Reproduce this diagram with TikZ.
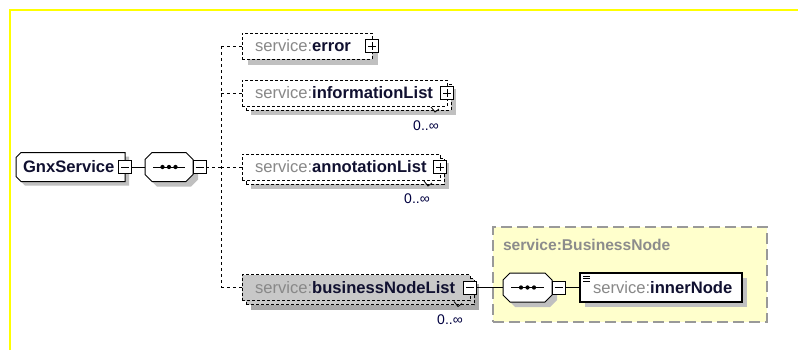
\documentclass[tikz,border=0pt]{standalone}
\usepackage{fontspec}
\setmainfont{Liberation Sans}
\usetikzlibrary{calc}

\pgfdeclarelayer{typebg}
\pgfdeclarelayer{shade}
\pgfsetlayers{typebg,shade,main}

\newlength\px
\setlength\px{0.75pt}

\definecolor{frameyellow}{RGB}{255,255,0}
\definecolor{prefixgray}{RGB}{136,136,136}
\definecolor{namenavy}{RGB}{16,16,48}
\definecolor{shadowgray}{RGB}{192,192,192}
\definecolor{selfill}{RGB}{200,200,200}
\definecolor{selshadow}{RGB}{170,170,170}
\definecolor{typefill}{RGB}{255,255,204}
\definecolor{typeborder}{RGB}{153,153,153}
\definecolor{typetitle}{RGB}{140,140,140}
\definecolor{occnavy}{RGB}{0,0,64}

\tikzset{
  blk/.style={rectangle, inner sep=0pt, outer sep=0pt},
  optline/.style={line width=1\px, dash pattern=on 2.25pt off 1.5pt},
  connline/.style={line width=1\px, dash pattern=on 2.25pt off 2.25pt},
  solidline/.style={line width=1\px},
  optbox/.style={blk, draw=black, fill=white, optline},
  selbox/.style={blk, draw=black, fill=selfill, optline},
  pmbox/.style={blk, draw=black, fill=white, line width=1\px,
    minimum width=13\px, minimum height=13\px},
  txt/.style={inner sep=0pt, outer sep=0pt, font=\fontsize{12.45}{14}\selectfont},
  occ/.style={inner sep=0pt, outer sep=0pt, text=occnavy, font=\fontsize{10.5}{12}\selectfont},
}

\newcommand\pfx[1]{\textcolor{prefixgray}{#1}}
\newcommand\elname[1]{\textcolor{namenavy}{\bfseries #1}}

% signs inside the expand/collapse boxes
\newcommand\minussign[1]{\draw[line width=1\px] ($(#1.center)+(-4,0)$) -- ($(#1.center)+(4,0)$);}
\newcommand\plussign[1]{\minussign{#1}\draw[line width=1\px] ($(#1.center)+(0,-4)$) -- ($(#1.center)+(0,4)$);}

% rectangular drop shadow of a node, offset in px
\newcommand\boxshadow[3]{\fill[#3] ($(#1.north west)+(#2,#2)$) rectangle ($(#1.south east)+(#2,#2)$);}

% small tick under a repeated element, next to its occurrence range
\newcommand\occtick[1]{\draw[line width=0.8\px] ($(#1.south east)+(-16,1)$) -- ($(#1.south east)+(-12,6)$) -- ($(#1.south east)+(-8,3)$);}

% root element outline: left corners cut off
\newcommand\rootshape[3]{\path[#3] ($(#1.north west)+(5+#2,#2)$) -- ($(#1.north east)+(#2,#2)$)
  -- ($(#1.south east)+(#2,#2)$) -- ($(#1.south west)+(5+#2,#2)$)
  -- ($(#1.south west)+(#2,-5+#2)$) -- ($(#1.north west)+(#2,5+#2)$) -- cycle;}

% sequence compositor outline (octagon)
\newcommand\octapath[3]{\path[#3] ($(#1.north west)+(7+#2,#2)$) -- ($(#1.north east)+(-7+#2,#2)$)
  -- ($(#1.north east)+(#2,7+#2)$) -- ($(#1.south east)+(#2,-7+#2)$)
  -- ($(#1.south east)+(-7+#2,#2)$) -- ($(#1.south west)+(7+#2,#2)$)
  -- ($(#1.south west)+(#2,-7+#2)$) -- ($(#1.north west)+(#2,7+#2)$) -- cycle;}

% sequence symbol: line with three dots
\newcommand\seqsymbol[1]{%
  \draw[line width=1\px] ($(#1.west)+(8,0)$) -- ($(#1.east)+(-8,0)$);
  \foreach \d in {-6.5,0,6.5}{\fill ($(#1.center)+(\d,0)$) circle (1.6pt);}}

\begin{document}
\begin{tikzpicture}[x=0.75pt, y=-0.75pt]
\useasboundingbox (0,0) rectangle (798,350);
\begin{pgfonlayer}{typebg}
  \fill[white] (0,0) rectangle (798,350);
\end{pgfonlayer}

% frame
\draw[frameyellow, line width=2\px] (9.5,350) -- (9.5,9.5) -- (798,9.5);

% ---- root element GnxService
\node[blk, minimum width=109\px, minimum height=29\px] (gnx) at (70.5,167) {};
\begin{pgfonlayer}{shade}\rootshape{gnx}{4}{fill=shadowgray}\end{pgfonlayer}
\rootshape{gnx}{0}{draw=black, fill=white, line width=1\px}
\node[txt, anchor=base west] (gnxt) at ($(gnx.west)+(7,5.5)$) {\elname{GnxService}};
\node[pmbox] (gnxm) at (gnx.east) {}; \minussign{gnxm}

% ---- sequence of GnxService
\node[blk, minimum width=48\px, minimum height=29\px] (seq1) at (169,167) {};
\begin{pgfonlayer}{shade}\octapath{seq1}{5}{fill=shadowgray}\end{pgfonlayer}
\octapath{seq1}{0}{draw=black, fill=white, line width=1\px}
\seqsymbol{seq1}
\node[pmbox, anchor=west] (seq1m) at (seq1.east) {}; \minussign{seq1m}
\draw[solidline] (gnxm.east) -- (seq1.west);

% ---- child elements
\node[optbox, minimum width=130\px, minimum height=26\px] (error) at (307,46) {};
\begin{pgfonlayer}{shade}\boxshadow{error}{6}{shadowgray}\end{pgfonlayer}
\node[txt, anchor=base west] (errort) at ($(error.west)+(13,5.5)$) {\pfx{service:}\elname{error}};
\node[pmbox] (errorp) at (error.east) {}; \plussign{errorp}

\node[optbox, minimum width=205\px, minimum height=26\px] (infob) at (348.5,97) {};
\begin{pgfonlayer}{shade}\boxshadow{infob}{5}{shadowgray}\end{pgfonlayer}
\node[optbox, minimum width=205\px, minimum height=26\px] (info) at (344.5,93) {};
\node[txt, anchor=base west] (infot) at ($(info.west)+(13,5.5)$) {\pfx{service:}\elname{informationList}};
\node[pmbox] (infop) at (info.east) {}; \plussign{infop}
\occtick{info}
\node[occ] (infoocc) at (426,126) {0..∞};

\node[optbox, minimum width=198\px, minimum height=26\px] (annotb) at (345,171) {};
\begin{pgfonlayer}{shade}\boxshadow{annotb}{5}{shadowgray}\end{pgfonlayer}
\node[optbox, minimum width=198\px, minimum height=26\px] (annot) at (341,167) {};
\node[txt, anchor=base west] (annott) at ($(annot.west)+(13,5.5)$) {\pfx{service:}\elname{annotationList}};
\node[pmbox] (annotp) at (annot.east) {}; \plussign{annotp}
\occtick{annot}
\node[occ] (annotocc) at (417,199) {0..∞};

\node[selbox, minimum width=228\px, minimum height=26\px] (bnlb) at (360,291.5) {};
\begin{pgfonlayer}{shade}\boxshadow{bnlb}{5}{selshadow}\end{pgfonlayer}
\node[selbox, minimum width=228\px, minimum height=26\px] (bnl) at (356,287.5) {};
\node[txt, anchor=base west] (bnlt) at ($(bnl.west)+(13,5.5)$) {\pfx{service:}\elname{businessNodeList}};
\node[pmbox] (bnlm) at (bnl.east) {}; \minussign{bnlm}
\occtick{bnl}
\node[occ] (bnlocc) at (450,320) {0..∞};

% ---- dashed connectors from the sequence
\coordinate (bus) at (221,167);
\draw[connline] (seq1m.east) -- (bus);
\draw[connline] (bus |- error.west) -- (bus |- bnl.west);
\foreach \n in {error,info,annot,bnl}{\draw[connline] (bus |- \n.west) -- (\n.west);}

% ---- complex type BusinessNode
\begin{pgfonlayer}{typebg}
  \node[blk, draw=typeborder, fill=typefill, line width=1.5\px,
    dash pattern=on 8.25pt off 3.75pt, minimum width=274\px, minimum height=95\px]
    (bntype) at (630,274.5) {};
\end{pgfonlayer}
\node[txt, anchor=base west, text=typetitle, font=\fontsize{11.7}{14}\selectfont\bfseries]
  (bntypet) at (503,250) {service:BusinessNode};

\node[blk, minimum width=49\px, minimum height=29\px] (seq2) at (527.5,287.5) {};
\begin{pgfonlayer}{shade}\octapath{seq2}{5}{fill=shadowgray}\end{pgfonlayer}
\octapath{seq2}{0}{draw=black, fill=white, line width=1\px}
\seqsymbol{seq2}
\node[pmbox, anchor=west] (seq2m) at (seq2.east) {}; \minussign{seq2m}
\draw[solidline] (bnlm.east) -- (seq2.west);

\node[blk, draw=black, fill=white, line width=1.3\px, minimum width=162\px, minimum height=29\px]
  (inner) at (661,287.5) {};
\begin{pgfonlayer}{shade}\boxshadow{inner}{5}{shadowgray}\end{pgfonlayer}
\foreach \k in {0,2.5,5}{\draw[line width=0.8\px] ($(inner.north west)+(3,3+\k)$) -- ++(7,0);}
\node[txt, anchor=base west] (innert) at ($(inner.west)+(13,5.5)$) {\pfx{service:}\elname{innerNode}};
\draw[solidline] (seq2m.east) -- (inner.west);
\end{tikzpicture}
\end{document}
